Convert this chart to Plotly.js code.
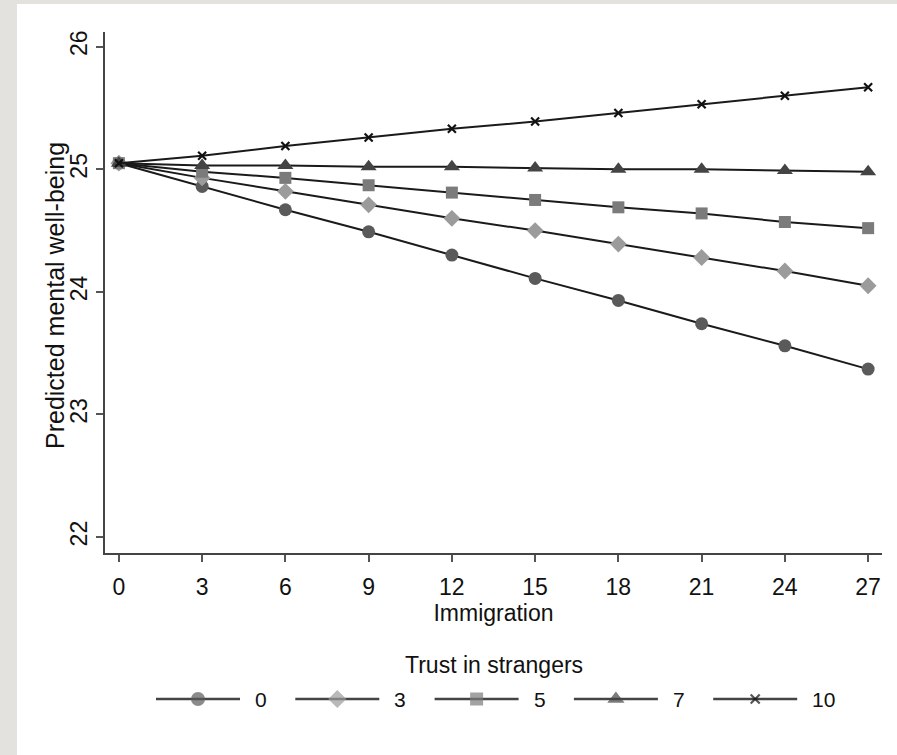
<!DOCTYPE html>
<html>
<head>
<meta charset="utf-8">
<script src="https://cdn.plot.ly/plotly-3.0.1.min.js"></script>
<style>html,body{margin:0;padding:0;background:#fff;}#chart{width:897px;height:755px;}</style>
</head>
<body>
<div id="chart"></div>
<script>
// ---- data ----
const immigration = [0, 3, 6, 9, 12, 15, 18, 21, 24, 27];
const trust0  = [25.05, 24.86, 24.67, 24.49, 24.30, 24.11, 23.93, 23.74, 23.56, 23.37];
const trust3  = [25.05, 24.93, 24.82, 24.71, 24.60, 24.50, 24.39, 24.28, 24.17, 24.05];
const trust5  = [25.05, 24.98, 24.93, 24.87, 24.81, 24.75, 24.69, 24.64, 24.57, 24.52];
const trust7  = [25.05, 25.03, 25.03, 25.02, 25.02, 25.01, 25.00, 25.00, 24.99, 24.98];
const trust10 = [25.05, 25.11, 25.19, 25.26, 25.33, 25.39, 25.46, 25.53, 25.60, 25.67];
const trustLabels = ['0', '3', '5', '7', '10'];
const yTicks = [22, 23, 24, 25, 26];
const xTicks = [0, 3, 6, 9, 12, 15, 18, 21, 24, 27];

// ---- styles ----
const FONT = 'Liberation Sans, Arial, sans-serif';
const series = [trust0, trust3, trust5, trust7, trust10];
const styles = [
  {symbol: 'circle', size: 13, color: '#5a5a5a', line: {width: 0}},
  {symbol: 'diamond', size: 13, color: '#9b9b9b', line: {width: 0}},
  {symbol: 'square', size: 12, color: '#7b7b7b', line: {width: 0}},
  {symbol: 'triangle-up', size: 14, color: '#444444', line: {width: 0}},
  {symbol: 'x-thin', size: 8, color: '#111111', line: {width: 2.2, color: '#111111'}}
];

const traces = series.map((ys, i) => ({
  type: 'scatter', mode: 'lines+markers',
  x: immigration, y: ys, name: trustLabels[i],
  xaxis: 'x', yaxis: 'y', showlegend: false, cliponaxis: false,
  line: {color: '#1a1a1a', width: 2},
  marker: Object.assign({}, styles[i])
}));

// ---- custom legend in a pixel-scaled helper subplot ----
const W = 897, H = 755, ML = 105, MR = 15, MT = 32, PB = 553;
const plotW = W - ML - MR, plotH = H - MT;
const legY = 699, legX0 = 198, legStep = 139.3, halfLine = 42;
const annotations = [];
trustLabels.forEach((lab, i) => {
  const cx = legX0 + i * legStep;
  const st = styles[i];
  traces.push({
    type: 'scatter', mode: 'lines+markers', xaxis: 'x2', yaxis: 'y2',
    x: [cx - halfLine, cx, cx + halfLine], y: [legY, legY, legY],
    showlegend: false, hoverinfo: 'skip', cliponaxis: false,
    line: {color: '#444444', width: 2.5},
    marker: {symbol: st.symbol, size: [0, st.size + 1, 0], color: st.color,
             line: st.line}
  });
  annotations.push({xref: 'x2', yref: 'y2', x: cx + halfLine + 13, y: legY,
    xanchor: 'left', yanchor: 'middle', text: lab, showarrow: false,
    font: {family: FONT, size: 21, color: '#111'}});
});
annotations.push({xref: 'x2', yref: 'y2', x: 494, y: 665, xanchor: 'center',
  yanchor: 'middle', text: 'Trust in strangers', showarrow: false,
  font: {family: FONT, size: 23, color: '#111'}});
// y-axis title placed at its pixel position (paper coordinates)
annotations.push({xref: 'paper', yref: 'paper', x: (55 - ML) / plotW, y: (H - 296) / plotH,
  xanchor: 'center', yanchor: 'middle', text: 'Predicted mental well-being', textangle: -90,
  showarrow: false, font: {family: FONT, size: 25, color: '#111'}});

const splitFrac = (H - PB) / plotH;

const layout = {
  width: W, height: H,
  margin: {l: ML, r: MR, t: MT, b: 0, pad: 0},
  paper_bgcolor: '#ffffff', plot_bgcolor: '#ffffff',
  font: {family: FONT, color: '#111'},
  showlegend: false,
  xaxis: {
    domain: [0, 1], anchor: 'y', range: [-0.5, 27.5],
    tickmode: 'array', tickvals: xTicks, ticktext: xTicks.map(String),
    ticks: 'outside', ticklen: 7, tickwidth: 2, tickcolor: '#555',
    ticklabelstandoff: 5,
    showline: true, linecolor: '#444', linewidth: 2, mirror: false,
    showgrid: false, zeroline: false,
    tickfont: {family: FONT, size: 23, color: '#111'},
    title: {text: 'Immigration', font: {family: FONT, size: 23, color: '#111'}, standoff: 4}
  },
  yaxis: {
    domain: [splitFrac, 1], anchor: 'x', range: [21.87, 26.12],
    tickmode: 'array', tickvals: yTicks, ticktext: yTicks.map(String),
    tickangle: -90,
    ticks: 'outside', ticklen: 7, tickwidth: 2, tickcolor: '#555',
    showline: true, linecolor: '#444', linewidth: 2, mirror: false,
    showgrid: false, zeroline: false,
    tickfont: {family: FONT, size: 23, color: '#111'}
  },
  xaxis2: {domain: [0, 1], anchor: 'y2', range: [ML, W - MR], visible: false, fixedrange: true},
  yaxis2: {domain: [0, splitFrac], anchor: 'x2', range: [H, PB], visible: false, fixedrange: true},
  annotations: annotations,
  shapes: [
    {type: 'rect', xref: 'paper', yref: 'paper', layer: 'below',
     x0: (0 - ML) / plotW, x1: (17 - ML) / plotW, y0: -0.01, y1: 1.1,
     fillcolor: '#e4e2de', line: {width: 0}},
    {type: 'rect', xref: 'paper', yref: 'paper', layer: 'below',
     x0: (0 - ML) / plotW, x1: 1.1, y0: (H - 4) / plotH, y1: (H + 2) / plotH,
     fillcolor: '#e4e2de', line: {width: 0}}
  ]
};

Plotly.newPlot('chart', traces, layout, {displayModeBar: false, staticPlot: true});
</script>
</body>
</html>
